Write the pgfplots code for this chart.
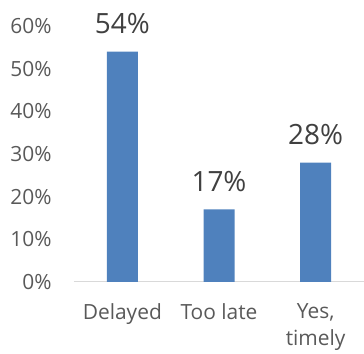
\documentclass[border=0pt]{standalone}
\usepackage{fontspec}
\setmainfont{Open Sans}
\usepackage{pgfplots}
\pgfplotsset{compat=1.18}
\definecolor{barblue}{HTML}{4F81BD}
\definecolor{ticktext}{HTML}{595959}
\definecolor{labtext}{HTML}{404040}
\definecolor{axgray}{HTML}{D9D9D9}
\begin{document}
\begin{tikzpicture}
\begin{axis}[
  scale only axis,
  width=290bp, height=256bp,
  ybar, bar width=31bp,
  xmin=-0.5, xmax=2.5,
  ymin=0, ymax=60,
  xtick=data,
  xticklabels={Delayed,Too late,{Yes,\\timely}},
  ytick={0,10,20,30,40,50,60},
  yticklabel={\pgfmathprintnumber{\tick}\%},
  /pgf/number format/assume math mode=true,
  axis y line*=left,
  axis x line*=bottom,
  y axis line style={draw=none},
  x axis line style={draw=axgray, line width=1bp},
  major tick style={draw=none},
  yticklabel style={font=\fontsize{21}{24}\selectfont, text=ticktext, xshift=-19bp},
  xticklabel style={font=\fontsize{21}{27}\selectfont, text=ticktext, align=center, yshift=-14bp},
  nodes near coords={\pgfmathprintnumber{\pgfplotspointmeta}\%},
  nodes near coords style={font=\fontsize{28}{31}\selectfont, text=labtext, yshift=14bp},
  clip=false,
]
\addplot[fill=barblue, draw=none] coordinates {(0,54) (1,17) (2,28)};
\end{axis}
\pgfresetboundingbox
\path ([shift={(-74bp,-72bp)}]current axis.south west) rectangle ([shift={(0bp,26bp)}]current axis.north east);
\end{tikzpicture}
\end{document}
